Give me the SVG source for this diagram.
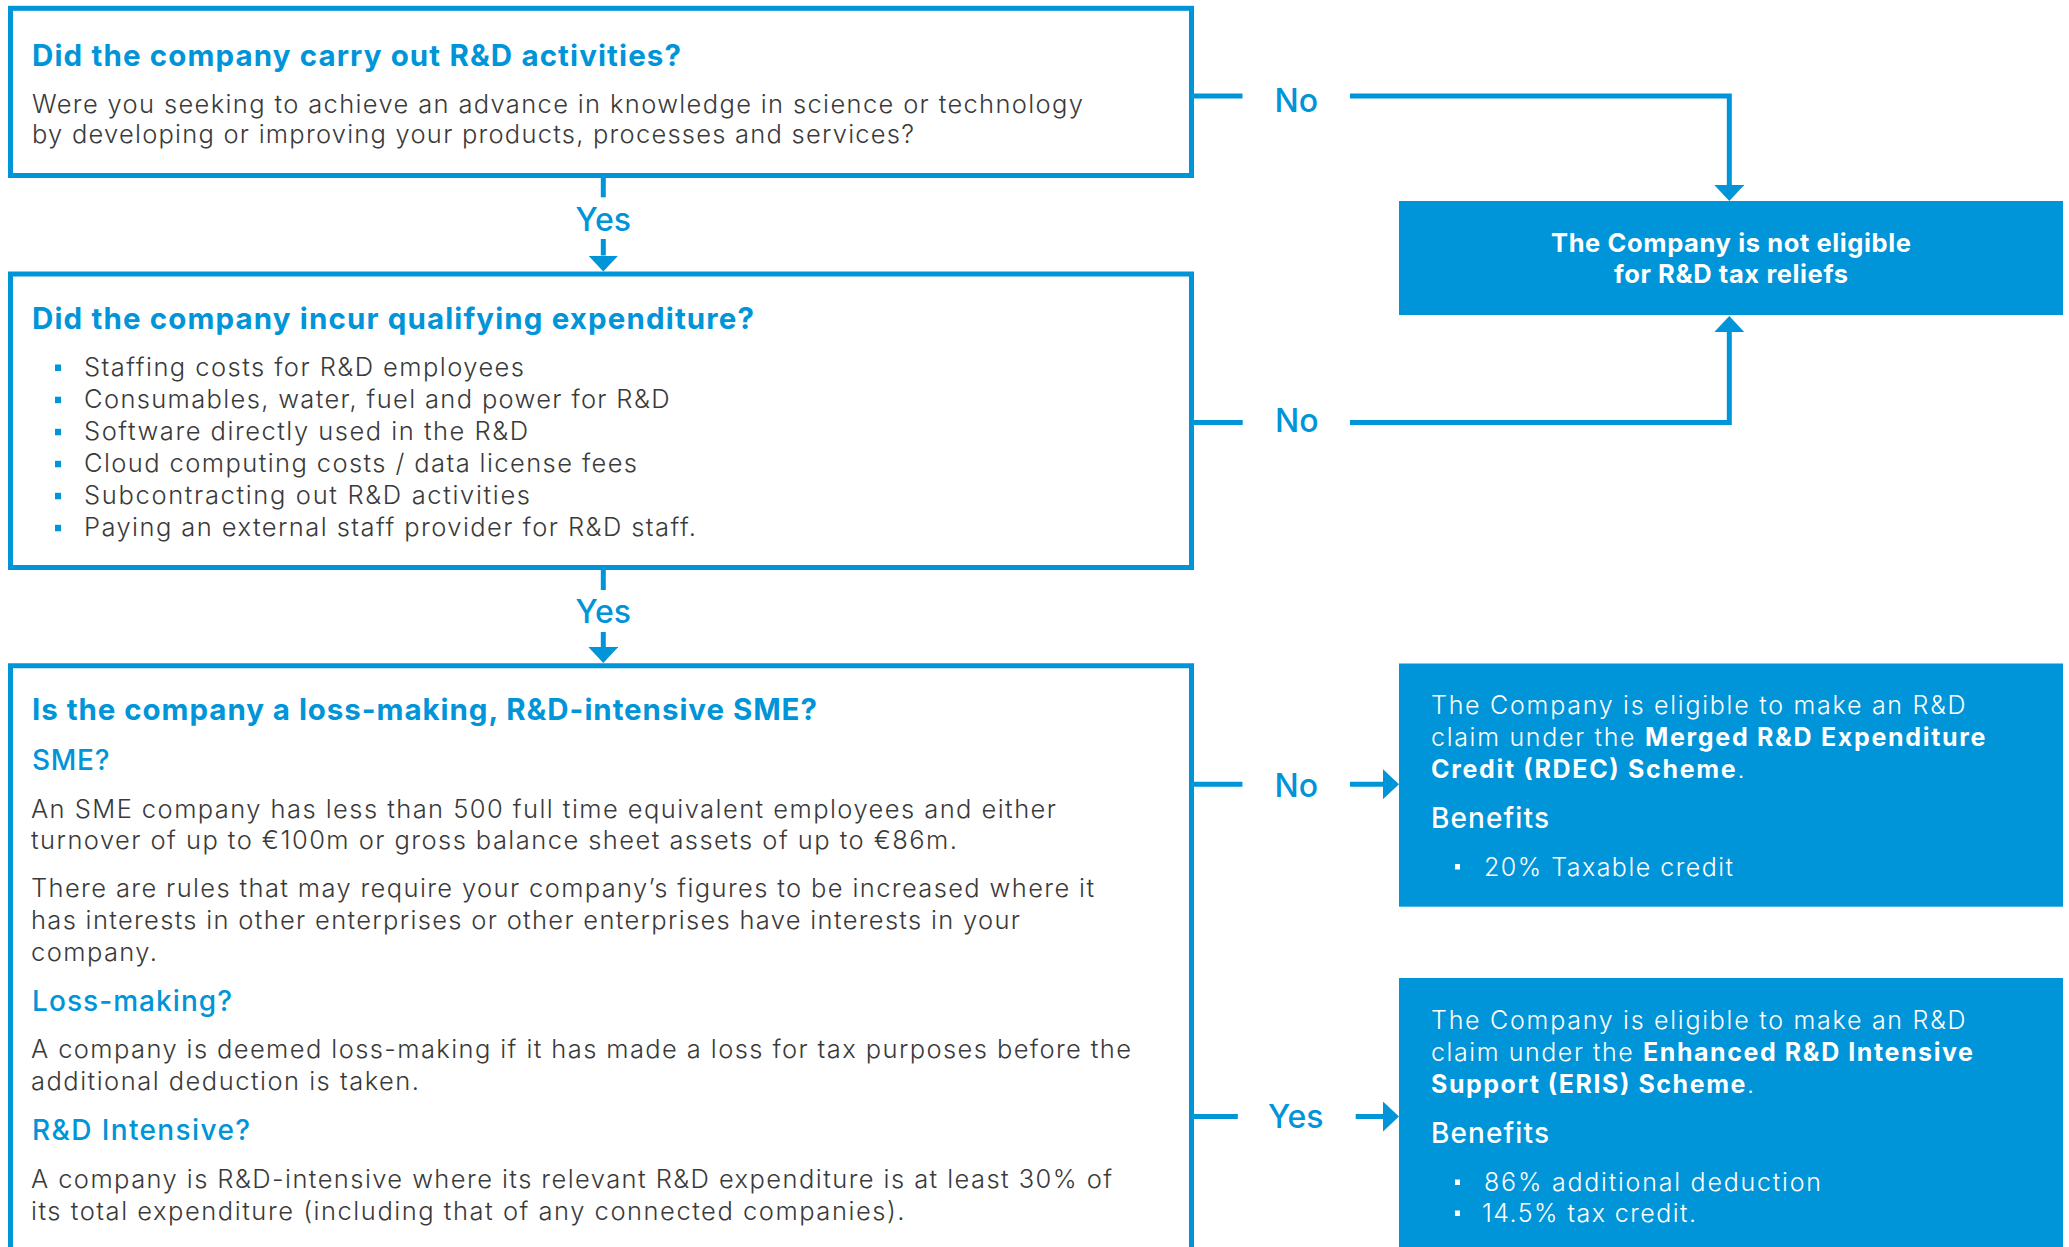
<svg xmlns="http://www.w3.org/2000/svg" width="2069" height="1247" viewBox="0 0 2069 1247">
<defs>
<style>
text { font-family: Inter, "Noto Sans", "Liberation Sans", sans-serif; }
.box { fill: #ffffff; stroke: #0094d8; stroke-width: 5; }
.solid { fill: #0094d8; }
.h { font-weight: 700; font-size: 29.5px; fill: #0094d8; }
.sub { font-weight: 500; font-size: 28px; fill: #0094d8; }
.body { font-weight: 300; font-size: 25.5px; fill: #3a3a3a; }
.wbody { font-weight: 300; font-size: 25px; fill: #ffffff; }
.wsub { font-weight: 500; font-size: 28px; fill: #ffffff; }
.wh { font-weight: 700; font-size: 25.5px; fill: #ffffff; text-anchor: middle; }
.b { font-weight: 700; }
.lbl { font-weight: 500; font-size: 32px; fill: #0094d8; text-anchor: middle; }
.conn { stroke: #0094d8; stroke-width: 5; fill: none; stroke-linejoin: miter; }
.blt { fill: #0094d8; }
.wblt { fill: #ffffff; }
</style>
<marker id="arr" markerUnits="userSpaceOnUse" markerWidth="16" markerHeight="30" refX="0" refY="15" orient="auto" viewBox="0 0 16 30">
<path d="M0,0 L16,15 L0,30 Z" fill="#0094d8"/>
</marker>
</defs>
<rect width="2069" height="1247" fill="#ffffff"/>

<g id="node-q1">
<rect class="box" x="10.5" y="8.3" width="1181" height="167.2"/>
<text class="h" x="32" y="66" textLength="649">Did the company carry out R&amp;D activities?</text>
<text class="body" x="32" y="112.7" textLength="1051">Were you seeking to achieve an advance in knowledge in science or technology</text>
<text class="body" x="32" y="143" textLength="882">by developing or improving your products, processes and services?</text>
</g>

<g id="node-q2">
<rect class="box" x="10.5" y="274" width="1181" height="293.5"/>
<text class="h" x="32" y="328.5" textLength="722">Did the company incur qualifying expenditure?</text>
<rect class="blt" x="55" y="364.5" width="6" height="6.5"/>
<text class="body" x="84" y="376" textLength="440">Staffing costs for R&amp;D employees</text>
<rect class="blt" x="55" y="396.7" width="6" height="6.5"/>
<text class="body" x="84" y="408.2" textLength="585.5">Consumables, water, fuel and power for R&amp;D</text>
<rect class="blt" x="55" y="428.8" width="6" height="6.5"/>
<text class="body" x="84" y="440.3" textLength="444">Software directly used in the R&amp;D</text>
<rect class="blt" x="55" y="460.8" width="6" height="6.5"/>
<text class="body" x="84" y="472.3" textLength="553">Cloud computing costs / data license fees</text>
<rect class="blt" x="55" y="492.8" width="6" height="6.5"/>
<text class="body" x="84" y="504.3" textLength="446">Subcontracting out R&amp;D activities</text>
<rect class="blt" x="55" y="524.8" width="6" height="6.5"/>
<text class="body" x="84" y="536.3" textLength="612">Paying an external staff provider for R&amp;D staff.</text>
</g>

<g id="node-q3">
<path class="box" d="M10.5,1262 V665.8 H1191.5 V1262"/>
<text class="h" x="32" y="720" textLength="785">Is the company a loss-making, R&amp;D-intensive SME?</text>
<text class="sub" x="32" y="770" textLength="77.5">SME?</text>
<text class="body" x="31" y="818.3" textLength="1025">An SME company has less than 500 full time equivalent employees and either</text>
<text class="body" x="31" y="848.5" textLength="926">turnover of up to €100m or gross balance sheet assets of up to €86m.</text>
<text class="body" x="31" y="896.7" textLength="1063">There are rules that may require your company’s figures to be increased where it</text>
<text class="body" x="31" y="928.5" textLength="989">has interests in other enterprises or other enterprises have interests in your</text>
<text class="body" x="31" y="960.5" textLength="126">company.</text>
<text class="sub" x="32" y="1010.5" textLength="200">Loss-making?</text>
<text class="body" x="31" y="1057.5" textLength="1100">A company is deemed loss-making if it has made a loss for tax purposes before the</text>
<text class="body" x="31" y="1089.5" textLength="388">additional deduction is taken.</text>
<text class="sub" x="32" y="1139.5" textLength="218">R&amp;D Intensive?</text>
<text class="body" x="31" y="1187.7" textLength="1081">A company is R&amp;D-intensive where its relevant R&amp;D expenditure is at least 30% of</text>
<text class="body" x="31" y="1219.5" textLength="873.5">its total expenditure (including that of any connected companies).</text>
</g>

<g id="node-not-eligible">
<rect class="solid" x="1399" y="201" width="664" height="114"/>
<text class="wh" x="1731" y="251.7" textLength="360">The Company is not eligible</text>
<text class="wh" x="1731" y="282.7" textLength="234">for R&amp;D tax reliefs</text>
</g>

<g id="node-rdec">
<rect class="solid" x="1399" y="663.5" width="664" height="243.2"/>
<text class="wbody" x="1431" y="714" textLength="534.5">The Company is eligible to make an R&amp;D</text>
<text class="wbody" x="1431" y="746" textLength="554.5">claim under the <tspan class="b">Merged R&amp;D Expenditure</tspan></text>
<text class="wbody" x="1431" y="777.7" textLength="313.5"><tspan class="b">Credit (RDEC) Scheme</tspan>.</text>
<text class="wsub" x="1431" y="828.3" textLength="118">Benefits</text>
<rect class="wblt" x="1455" y="864" width="5" height="5.5"/>
<text class="wbody" x="1484" y="875.5" textLength="249">20% Taxable credit</text>
</g>

<g id="node-eris">
<rect class="solid" x="1399" y="978" width="664" height="290"/>
<text class="wbody" x="1431" y="1029.3" textLength="534.5">The Company is eligible to make an R&amp;D</text>
<text class="wbody" x="1431" y="1061" textLength="542">claim under the <tspan class="b">Enhanced R&amp;D Intensive</tspan></text>
<text class="wbody" x="1431" y="1093.3" textLength="323"><tspan class="b">Support (ERIS) Scheme</tspan>.</text>
<text class="wsub" x="1431" y="1143.3" textLength="118">Benefits</text>
<rect class="wblt" x="1455" y="1179.5" width="5" height="5.5"/>
<text class="wbody" x="1484" y="1190.7" textLength="337">86% additional deduction</text>
<rect class="wblt" x="1455" y="1210.5" width="5" height="5.5"/>
<text class="wbody" x="1482" y="1221.7" textLength="214">14.5% tax credit.</text>
</g>

<g id="connectors">
<line class="conn" x1="603.3" y1="178" x2="603.3" y2="197.3"/>
<text class="lbl" x="603.3" y="231">Yes</text>
<line class="conn" x1="603.3" y1="239" x2="603.3" y2="255.5" marker-end="url(#arr)"/>

<line class="conn" x1="603.3" y1="570" x2="603.3" y2="590"/>
<text class="lbl" x="603.3" y="623.3">Yes</text>
<line class="conn" x1="603.3" y1="632" x2="603.3" y2="647" marker-end="url(#arr)"/>

<line class="conn" x1="1193" y1="96" x2="1242.5" y2="96"/>
<text class="lbl" x="1296.3" y="111.7">No</text>
<polyline class="conn" points="1350,96 1729.3,96 1729.3,185" marker-end="url(#arr)"/>

<line class="conn" x1="1193" y1="422.5" x2="1242.7" y2="422.5"/>
<text class="lbl" x="1296.8" y="432.3">No</text>
<polyline class="conn" points="1350,422.5 1729.3,422.5 1729.3,332" marker-end="url(#arr)"/>

<line class="conn" x1="1193" y1="784.2" x2="1242.4" y2="784.2"/>
<text class="lbl" x="1296.3" y="797.3">No</text>
<line class="conn" x1="1350" y1="784.2" x2="1383" y2="784.2" marker-end="url(#arr)"/>

<line class="conn" x1="1193" y1="1116.5" x2="1237.8" y2="1116.5"/>
<text class="lbl" x="1295.7" y="1128.3">Yes</text>
<line class="conn" x1="1355.7" y1="1116.5" x2="1383" y2="1116.5" marker-end="url(#arr)"/>
</g>
</svg>
